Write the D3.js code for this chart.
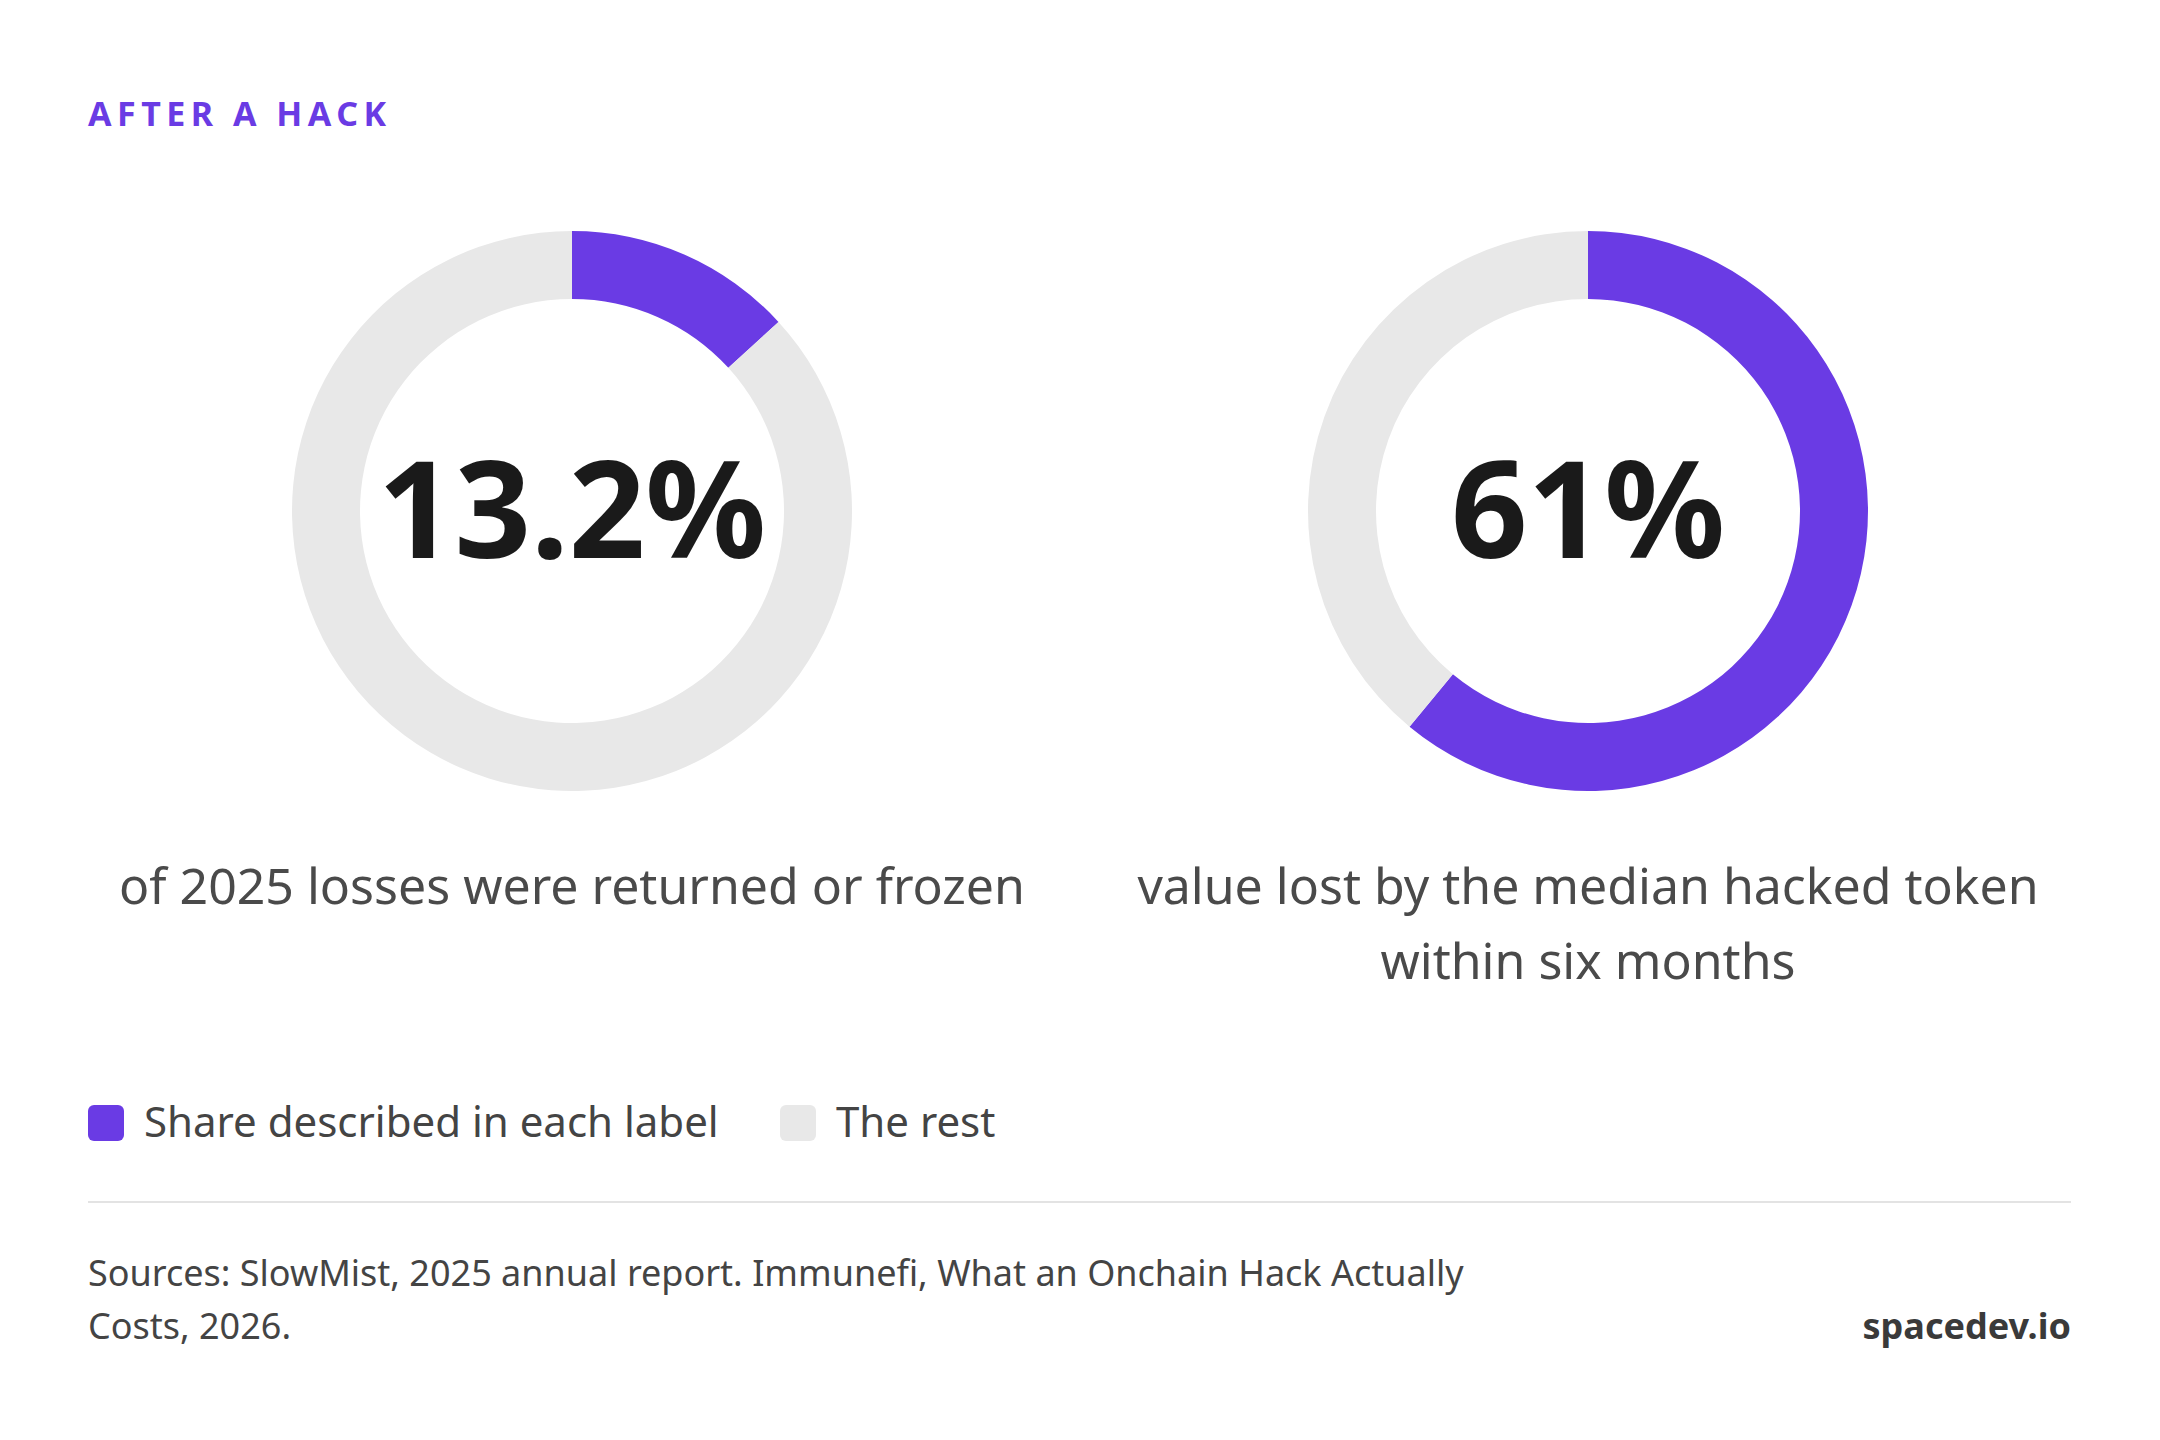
<!DOCTYPE html>
<html><head><meta charset="utf-8">
<script src="https://cdn.jsdelivr.net/npm/d3@7"></script>
<style>body{margin:0;background:#fff}svg{display:block}</style>
</head><body>
<script>
const title = "AFTER A HACK";
const values = [13.2, 61];
const centerLabels = ["13.2%", "61%"];
const captions = [["of 2025 losses were returned or frozen"], ["value lost by the median hacked token", "within six months"]];
const legendLabels = ["Share described in each label", "The rest"];
const sources = ["Sources: SlowMist, 2025 annual report. Immunefi, What an Onchain Hack Actually", "Costs, 2026."];
const brand = "spacedev.io";

const W = 2160, H = 1440;
const purple = "#6a3be4", gray = "#e8e8e8";
const font = "'Noto Sans', 'Open Sans', sans-serif";
const svg = d3.select("body").append("svg").attr("width", W).attr("height", H).style("font-family", font);

svg.append("text").attr("x", 88).attr("y", 126).text(title)
  .attr("fill", purple).attr("font-size", 34).attr("font-weight", 700).attr("letter-spacing", 5.5);

const cx = d3.scalePoint().domain(d3.range(values.length)).range([572, 1588]);
const pie = d3.pie().sort(null).value(d => d);
const arc = d3.arc().innerRadius(212).outerRadius(280);

values.forEach((v, i) => {
  const g = svg.append("g").attr("transform", `translate(${cx(i)},511)`);
  g.selectAll("path").data(pie([v, 100 - v])).join("path")
    .attr("d", arc).attr("fill", (d, j) => j === 0 ? purple : gray);
  g.append("text").attr("text-anchor", "middle").attr("y", 47).text(centerLabels[i])
    .attr("font-size", 134).attr("font-weight", 700).attr("fill", "#1a1a1a");
  captions[i].forEach((c, k) => {
    svg.append("text").attr("x", cx(i)).attr("y", 904 + k * 75).attr("text-anchor", "middle")
      .text(c).attr("font-size", 50).attr("fill", "#4a4a4a");
  });
});

const lx = [88, 780];
legendLabels.forEach((l, i) => {
  svg.append("rect").attr("x", lx[i]).attr("y", 1105).attr("width", 36).attr("height", 36).attr("rx", 6)
    .attr("fill", i === 0 ? purple : gray);
  svg.append("text").attr("x", lx[i] + 56).attr("y", 1137).text(l).attr("font-size", 42).attr("fill", "#444");
});

svg.append("line").attr("x1", 88).attr("x2", 2071).attr("y1", 1202).attr("y2", 1202)
  .attr("stroke", "#e3e3e3").attr("stroke-width", 2);

sources.forEach((s, k) => {
  svg.append("text").attr("x", 88).attr("y", 1286 + k * 53).text(s).attr("font-size", 36).attr("fill", "#444");
});
svg.append("text").attr("x", 2071).attr("y", 1339).attr("text-anchor", "end").text(brand)
  .attr("font-size", 36).attr("font-weight", 700).attr("fill", "#3a3a3a");
</script>
</body></html>
